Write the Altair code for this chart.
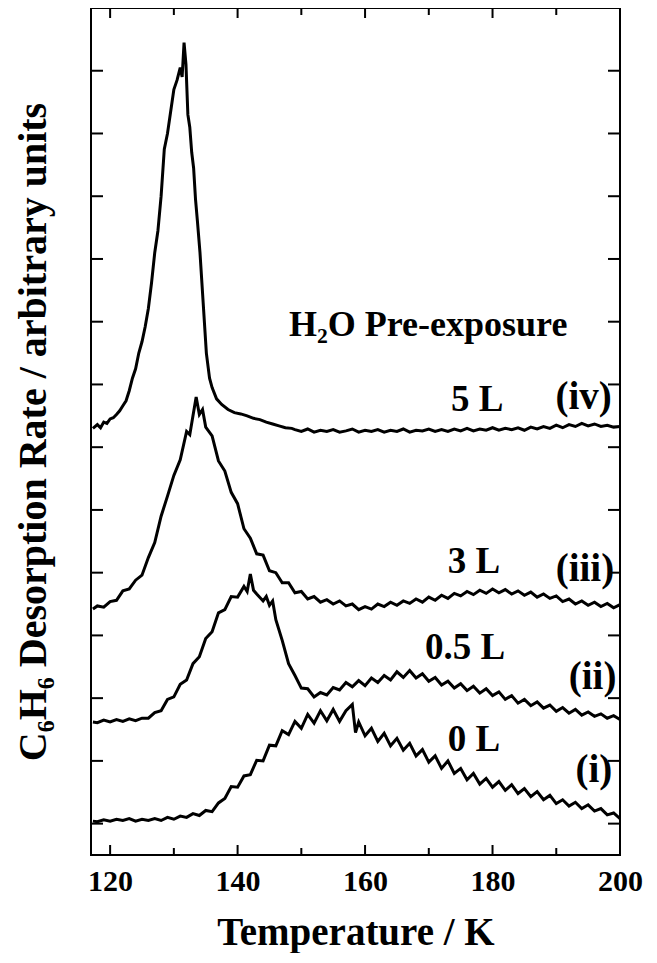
import altair as alt
import pandas as pd

# ---- data: (temperature K, offset desorption rate in arbitrary units) ----
ZERO_L = [(117.3,0.04),(118,0.03),(119,0.06),(120,0.04),(121,0.07),(122,0.05),(123,0.08),(124,0.04),(125,0.07),
          (126,0.05),(127,0.08),(128,0.05),(129,0.10),(130,0.07),(131,0.12),(132,0.10),(133,0.16),(134,0.13),
          (135,0.21),(136,0.19),(137,0.33),(138,0.40),(139,0.59),(140,0.58),(141,0.76),(142,0.78),(143,1.01),
          (144,1.00),(145,1.25),(146,1.24),(147,1.48),(148,1.42),(149,1.63),(150,1.52),(151,1.74),(152,1.60),
          (153,1.80),(154,1.64),(155,1.82),(156,1.63),(157,1.80),(158,1.90),(158.5,1.45),(159,1.62),(160,1.40),
          (161,1.52),(162,1.31),(163,1.44),(164,1.24),(165,1.36),(166,1.17),(167,1.28),(168,1.08),(169,1.18),
          (170,0.98),(171,1.08),(172,0.88),(173,1.00),(174,0.80),(175,0.88),(176,0.70),(177,0.80),(178,0.63),
          (179,0.72),(180,0.58),(181,0.67),(182,0.53),(183,0.62),(184,0.48),(185,0.56),(186,0.43),(187,0.51),
          (188,0.38),(189,0.45),(190,0.32),(191,0.38),(192,0.28),(193,0.34),(194,0.24),(195,0.30),(196,0.20),
          (197,0.24),(198,0.14),(199,0.17),(200,0.08)]

HALF_L = [(117.3,1.62),(118,1.61),(119,1.65),(120,1.62),(121,1.66),(122,1.63),(123,1.67),(124,1.64),(125,1.68),
          (126,1.68),(127,1.77),(128,1.80),(129,1.98),(130,2.02),(131,2.22),(132,2.29),(133,2.55),(134,2.66),
          (135,2.95),(136,3.06),(137,3.36),(138,3.41),(139,3.62),(140,3.61),(141,3.78),(141.5,3.70),(142,3.98),
          (142.5,3.72),(143,3.66),(144,3.55),(144.5,3.62),(145,3.48),(145.5,3.55),(146,3.25),(147,2.92),(148,2.55),
          (149,2.36),(150,2.16),(151,2.15),(152,2.02),(153,2.09),(154,2.05),(155,2.17),(156,2.13),(157,2.25),
          (158,2.18),(159,2.28),(160,2.20),(161,2.32),(162,2.25),(163,2.36),(164,2.29),(165,2.42),(166,2.33),
          (167,2.44),(168,2.32),(169,2.39),(170,2.27),(171,2.33),(172,2.21),(173,2.27),(174,2.16),(175,2.23),
          (176,2.12),(177,2.19),(178,2.08),(179,2.15),(180,2.04),(181,2.10),(182,1.98),(183,2.04),(184,1.92),
          (185,1.98),(186,1.88),(187,1.94),(188,1.84),(189,1.89),(190,1.79),(191,1.85),(192,1.76),(193,1.82),
          (194,1.73),(195,1.78),(196,1.71),(197,1.75),(198,1.68),(199,1.72),(200,1.66)]

THREE_L = [(117.3,3.42),(118,3.47),(119,3.45),(120,3.54),(121,3.56),(122,3.71),(123,3.74),(124,3.88),(125,3.96),
           (126,4.24),(127,4.48),(128,4.90),(129,5.22),(130,5.55),(131,5.80),(132,6.25),(132.5,6.20),(133,6.50),
           (133.5,6.80),(134,6.52),(134.5,6.60),(135,6.32),(136,6.18),(137,5.78),(138,5.62),(139,5.28),(140,5.10),
           (141,4.70),(142,4.55),(143,4.30),(144,4.28),(145,4.03),(146,4.00),(147,3.84),(148,3.84),(149,3.68),
           (150,3.70),(151,3.58),(152,3.62),(153,3.53),(154,3.57),(155,3.50),(156,3.55),(157,3.47),(158,3.50),
           (159,3.41),(160,3.46),(161,3.42),(162,3.50),(163,3.46),(164,3.53),(165,3.48),(166,3.55),(167,3.51),
           (168,3.58),(169,3.53),(170,3.61),(171,3.56),(172,3.64),(173,3.59),(174,3.67),(175,3.63),(176,3.70),
           (177,3.65),(178,3.72),(179,3.67),(180,3.74),(181,3.68),(182,3.73),(183,3.66),(184,3.71),(185,3.64),
           (186,3.69),(187,3.61),(188,3.66),(189,3.59),(190,3.63),(191,3.54),(192,3.58),(193,3.50),(194,3.55),
           (195,3.48),(196,3.53),(197,3.46),(198,3.51),(199,3.44),(200,3.49)]

FIVE_L = [(117.3,6.30),(118,6.36),(118.5,6.31),(119,6.40),(119.5,6.38),(120,6.45),(120.5,6.47),(121,6.52),
          (121.5,6.58),(122,6.66),(122.5,6.74),(123,6.90),(123.5,7.10),(124,7.25),(124.5,7.50),(125,7.68),
          (125.5,7.92),(126,8.21),(126.5,8.62),(127,9.10),(127.5,9.45),(128,10.0),(128.5,10.75),(129,11.0),
          (129.5,11.35),(130,11.7),(130.5,11.85),(131,12.05),(131.3,11.9),(131.6,12.45),(131.9,12.1),(132.2,11.3),
          (132.5,11.1),(132.8,10.7),(133.1,10.45),(133.4,9.95),(133.7,9.6),(134.1,9.1),(134.6,8.3),(135.1,7.5),
          (135.6,7.1),(136,6.95),(136.7,6.77),(137.5,6.68),(138.5,6.60),(139.5,6.55),(140.5,6.53),(141.5,6.50),
          (142.5,6.46),(143.5,6.44),(144.5,6.40),(145.5,6.37),(146.5,6.34),(147.5,6.31),(148.5,6.30),
          (149,6.28),(150,6.25),(151,6.29),(152,6.24),(153,6.27),(154,6.25),(155,6.28),(156,6.24),(157,6.26),
          (158,6.29),(159,6.24),(160,6.27),(161,6.25),(162,6.28),(163,6.24),(164,6.27),(165,6.25),(166,6.29),
          (167,6.24),(168,6.27),(169,6.26),(170,6.29),(171,6.25),(172,6.28),(173,6.25),(174,6.29),(175,6.26),
          (176,6.30),(177,6.26),(178,6.29),(179,6.27),(180,6.31),(181,6.27),(182,6.30),(183,6.28),(184,6.31),
          (185,6.27),(186,6.32),(187,6.29),(188,6.33),(189,6.30),(190,6.35),(191,6.31),(192,6.36),(193,6.33),
          (194,6.38),(195,6.34),(196,6.37),(197,6.33),(198,6.35),(199,6.32),(200,6.33)]

SERIES = [("0 L", ZERO_L), ("0.5 L", HALF_L), ("3 L", THREE_L), ("5 L", FIVE_L)]

X_LABELS = [120, 140, 160, 180, 200]
X_MAJOR = [120, 140, 160, 180, 200]
X_MINOR = [130, 150, 170, 190]
Y_TICKS = [0, 1, 2, 3, 4, 5, 6, 7, 8, 9, 10, 11, 12]

LABEL_TEXT = ["H₂O Pre-exposure", "5 L", "(iv)", "3 L", "(iii)", "0.5 L", "(ii)", "0 L", "(i)"]
LABEL_T = [169.9, 177.6, 194.3, 177.1, 194.5, 175.7, 195.7, 177.1, 195.9]
LABEL_U = [7.78, 6.57, 6.61, 4.00, 3.86, 2.63, 2.15, 1.15, 0.67]
LABEL_FS = [36, 37, 39, 37, 39, 37, 39, 37, 39]

FONT = "Liberation Serif"
W, H = 529, 847

rows = []
for name, pts in SERIES:
    for t, r in pts:
        rows.append({"T": t, "rate": r, "exposure": name})
df = pd.DataFrame(rows)

xs = alt.Scale(domain=[117, 200], nice=False, zero=False)
ys = alt.Scale(domain=[-0.5, 13], nice=False, zero=False)

X_ENC = alt.X("T:Q", scale=xs,
              axis=alt.Axis(values=X_LABELS, title="Temperature / K", ticks=False, domain=False, grid=False,
                            labelFontSize=30, titleFontSize=39, labelPadding=11, titlePadding=17,
                            labelFlush=False, format="d"))
Y_ENC = alt.Y("rate:Q", scale=ys,
              axis=alt.Axis(labels=False, ticks=False, domain=False, grid=False,
                            title="C₆H₆ Desorption Rate / arbitrary units", titleFontSize=40,
                            titlePadding=38))

lines = alt.Chart(df).mark_line(color="black", strokeWidth=3).encode(
    x=X_ENC, y=Y_ENC, detail="exposure:N",
)

xmaj = pd.DataFrame({"T": X_MAJOR})
xmin = pd.DataFrame({"T": X_MINOR})
yt = pd.DataFrame({"rate": Y_TICKS})

def xtick(data, y0, y1):
    return alt.Chart(data).mark_rule(color="black", strokeWidth=2).encode(
        x=X_ENC, y=alt.value(y0), y2=alt.value(y1))

def ytick(x0, x1):
    return alt.Chart(yt).mark_rule(color="black", strokeWidth=2).encode(
        y=Y_ENC, x=alt.value(x0), x2=alt.value(x1))

ticks = [
    xtick(xmaj, H, H - 10), xtick(xmin, H, H - 7),
    xtick(xmaj, 0, 10), xtick(xmin, 0, 7),
    ytick(0, 12), ytick(W, W - 12),
]

lab = pd.DataFrame({"T": LABEL_T, "rate": LABEL_U, "txt": LABEL_TEXT, "fs": LABEL_FS})
labels = alt.Chart(lab).mark_text(font=FONT, fontWeight="bold", color="black", align="center",
                                  baseline="alphabetic").encode(
    x=X_ENC, y=Y_ENC,
    text="txt:N",
    size=alt.Size("fs:Q", scale=None, legend=None),
)

chart = alt.layer(lines, *ticks, labels).properties(
    width=W, height=H,
    autosize=alt.AutoSizeParams(type="none"),
    padding={"left": 83, "top": 0, "right": 28, "bottom": 98},
).configure_view(stroke="black", strokeWidth=2).configure_axis(
    labelFont=FONT, titleFont=FONT, labelFontWeight="bold", titleFontWeight="bold",
    labelColor="black", titleColor="black",
)

chart.save("out.html", embed_options={"renderer": "svg", "actions": False})
